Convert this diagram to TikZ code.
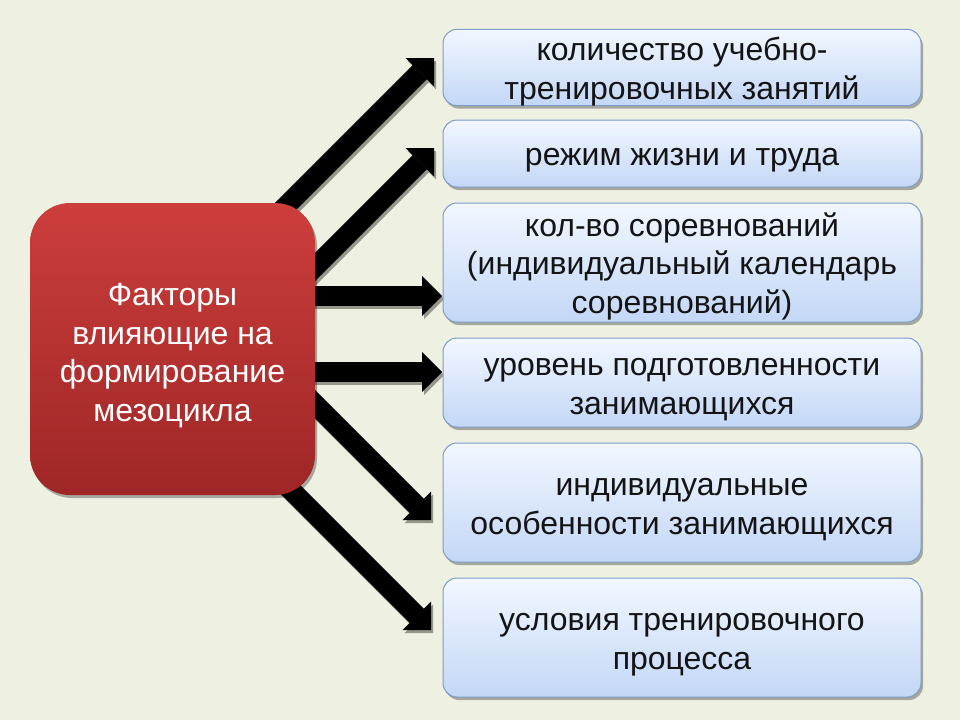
\documentclass[tikz,border=0pt]{standalone}
\usepackage{fontspec}
\setmainfont{Liberation Sans}
\usetikzlibrary{arrows.meta,shadows}
\definecolor{bg}{RGB}{238,240,226}
\definecolor{redtop}{RGB}{204,62,60}
\definecolor{redbot}{RGB}{158,38,38}
\definecolor{bluetop}{RGB}{242,247,255}
\definecolor{bluebot}{RGB}{195,215,246}
\definecolor{blueline}{RGB}{126,156,200}
\definecolor{arrshadow}{RGB}{150,150,138}
\definecolor{ink}{RGB}{20,20,20}
\newcommand\lnst{\rule[-6pt]{0pt}{37pt}}
\newcommand\lnstr{\rule[-6pt]{0pt}{41pt}}
\begin{document}
\begin{tikzpicture}[x=1pt,y=-1pt,
  factor/.style={rounded corners=40pt, top color=redtop, bottom color=redbot,
    draw=none, text=white, align=center, inner sep=0pt,
    font=\fontsize{32}{37}\selectfont,
    minimum width=285pt, minimum height=292pt,
    drop shadow={shadow xshift=2pt, shadow yshift=-3pt, opacity=0.3, fill=black}},
  item/.style={rounded corners=14pt, top color=bluetop, bottom color=bluebot,
    draw=blueline, line width=1pt, align=center, inner sep=0pt, text=ink,
    font=\fontsize{32}{37}\selectfont, minimum width=478pt,
    drop shadow={shadow xshift=2pt, shadow yshift=-3pt, opacity=0.3, fill=black}},
  bigarrow/.style={line width=20pt, draw=black,
    -{Triangle[length=20pt,width=40pt,line width=0pt]}},
  arrowshadow/.style={line width=20pt, draw=arrshadow,
    -{Triangle[length=20pt,width=40pt,line width=0pt]},
    transform canvas={shift={(2,3)}}}
]
\fill[bg] (0,0) rectangle (960,720);
\useasboundingbox (0,0) rectangle (960,720);

% arrow end points
\coordinate (s1) at (234,258); \coordinate (t1) at (434,58);
\coordinate (s2) at (254,328); \coordinate (t2) at (434,148);
\coordinate (s3) at (250,296); \coordinate (t3) at (442,296);
\coordinate (s4) at (250,372); \coordinate (t4) at (442,372);
\coordinate (s5) at (251,340); \coordinate (t5) at (431,520);
\coordinate (s6) at (251,450); \coordinate (t6) at (431,630);

\foreach \i in {1,...,6}{
  \draw[arrowshadow] (s\i) -- (t\i);
}
\foreach \i in {1,...,6}{
  \draw[bigarrow] (s\i) -- (t\i);
}

\node[factor] (f) at (172.5,349) {\lnstr Факторы\\\lnst влияющие на\\\lnst формирование\\\lnst мезоцикла};

\node[item, minimum height=75pt]  (b1) at (682,67.5)  {\lnst количество учебно-\\\lnst тренировочных занятий};
\node[item, minimum height=67pt]  (b2) at (682,153.5) {\lnst режим жизни и труда};
\node[item, minimum height=119pt] (b3) at (682,262.5) {\lnst кол-во соревнований\\\lnst (индивидуальный календарь\\\lnst соревнований)};
\node[item, minimum height=89pt]  (b4) at (682,382.5) {\lnst уровень подготовленности\\\lnst занимающихся};
\node[item, minimum height=119pt] (b5) at (682,502.5) {\lnst индивидуальные\\\lnst особенности занимающихся};
\node[item, minimum height=119pt] (b6) at (682,637.5) {\lnst условия тренировочного\\\lnst процесса};
\end{tikzpicture}
\end{document}
